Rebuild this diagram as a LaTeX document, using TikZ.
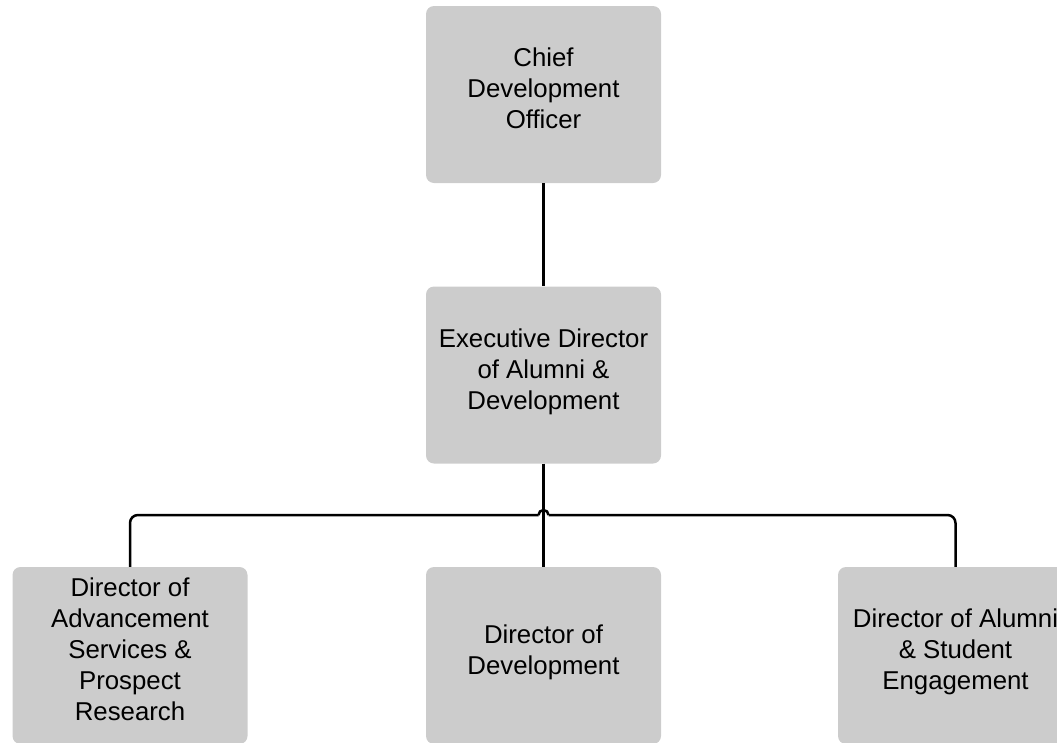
\documentclass[tikz,border=0pt]{standalone}
\usepackage{fontspec}
\setmainfont{Liberation Sans}
\begin{document}
\begin{tikzpicture}[x=1pt,y=-1pt,
	post/.style={draw=none,fill=black!20,rounded corners=8pt,minimum width=235pt,minimum height=177pt,inner sep=0pt,align=center,font=\fontsize{25.8}{31}\selectfont,execute at end node={\rule[-12pt]{0pt}{1pt}}},
	link/.style={draw=black,line width=2.5pt}]
			\clip (0,0) rectangle (1057,742);
			\node[post] (cdo) at (543.5,94.5) {Chief\\Development\\Officer};
			\node[post] (edad) at (543.5,375) {Executive Director\\of Alumni \&\\Development};
			\node[post] (dasp) at (130,655.5) {Director of\\Advancement\\Services \&\\Prospect\\Research};
			\node[post] (dod) at (543.5,655.5) {Director of\\Development};
			\node[post] (dase) at (955.5,655.5) {Director of Alumni\\\& Student\\Engagement};

			\draw[link] (cdo.south) -- (edad.north);
			\draw[link] (edad.south) -- (dod.north);
			\coordinate (hopl) at (538.5,515);
			\coordinate (hopr) at (548.5,515);
			\draw[link,rounded corners=8pt] (dasp.north) |- (hopl);
			\draw[link] (hopl) arc[start angle=180,end angle=0,radius=5pt];
			\draw[link,rounded corners=8pt] (hopr) -| (dase.north);
			\end{tikzpicture}
\end{document}
